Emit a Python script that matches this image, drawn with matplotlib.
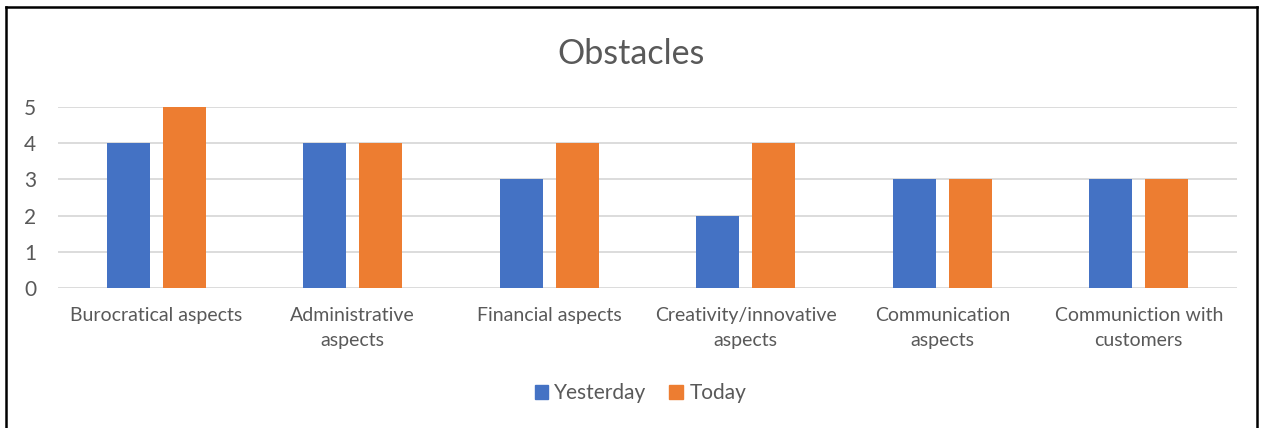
import matplotlib
matplotlib.use("Agg")
import matplotlib.pyplot as plt
import numpy as np
from matplotlib.lines import Line2D
from matplotlib.patches import Patch

categories = ["Burocratical aspects", "Administrative\naspects", "Financial aspects",
              "Creativity/innovative\naspects", "Communication\naspects", "Communiction with\ncustomers"]
yesterday = [4, 4, 3, 2, 3, 3]
today = [5, 4, 4, 4, 3, 3]
series_names = ["Yesterday", "Today"]
colors = ["#4472C4", "#ED7D31"]
text_color = "#595959"

plt.rcParams['font.family'] = ['Lato', 'DejaVu Sans']

fig = plt.figure(figsize=(12.63, 4.28), dpi=100)
ax = fig.add_axes([58/1263, 1-288/428, (1237-58)/1263, (288-107)/428])

x = np.arange(len(categories))
w = 0.219
off = 0.1425
ax.bar(x - off, yesterday, w, color=colors[0], zorder=3)
ax.bar(x + off, today, w, color=colors[1], zorder=3)

ax.set_xlim(-0.5, len(categories) - 0.5)
ax.set_ylim(0, 5)
ax.set_yticks(range(6))
ax.yaxis.grid(True, color="#D9D9D9", linewidth=1.3, zorder=0)
ax.set_axisbelow(True)
for s in ax.spines.values():
    s.set_visible(False)
ax.tick_params(axis='both', length=0, colors=text_color)
ax.tick_params(axis='y', labelsize=15, pad=20)
ax.set_xticks(x)
ax.set_xticklabels(categories, fontsize=14, color=text_color, linespacing=1.55)
ax.tick_params(axis='x', pad=14)
for lbl in ax.get_yticklabels():
    lbl.set_horizontalalignment('center')

fig.text(0.5, 1-54/428, "Obstacles", ha='center', va='center', fontsize=24.5, color=text_color)

handles = [Patch(color=c) for c in colors]
fig.legend(handles, series_names, loc='center', bbox_to_anchor=(0.507, 1-393/428), ncol=2,
           frameon=False, fontsize=15, labelcolor=text_color, handlelength=0.65, handleheight=0.65,
           handletextpad=0.3, columnspacing=1.1)

# figure border (left, top, right)
fig.add_artist(Line2D([6/1263, 6/1263], [0, 1-7/428], transform=fig.transFigure, color='black', lw=1.8))
fig.add_artist(Line2D([6/1263, 1257/1263], [1-7/428, 1-7/428], transform=fig.transFigure, color='black', lw=1.8))
fig.add_artist(Line2D([1257/1263, 1257/1263], [0, 1-7/428], transform=fig.transFigure, color='black', lw=1.8))

fig.savefig("out.png", dpi=100, facecolor='white')
